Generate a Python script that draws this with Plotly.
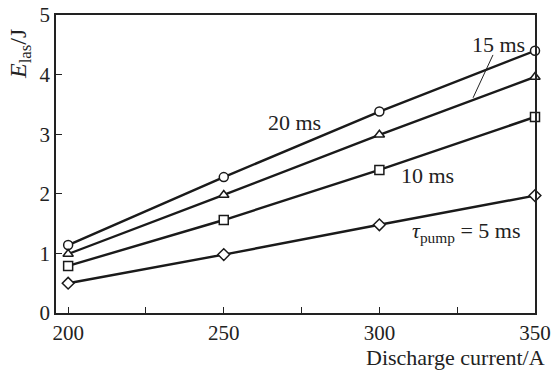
import plotly.graph_objects as go

current = [200, 250, 300, 350]
e_20ms = [1.14, 2.28, 3.38, 4.40]
e_15ms = [0.99, 1.98, 2.99, 3.96]
e_10ms = [0.79, 1.56, 2.40, 3.29]
e_5ms = [0.50, 0.98, 1.48, 1.97]

x_tickvals = [200, 225, 250, 275, 300, 325, 350]
x_ticktext = ["200", "", "250", "", "300", "", "350"]
y_tickvals = [0, 1, 2, 3, 4, 5]
y_ticktext = ["0", "1", "2", "3", "4", "5"]

FONT = "Liberation Serif, Times New Roman, serif"
FS = 22

series = [
    (e_20ms, "circle", "20 ms"),
    (e_15ms, "triangle-up", "15 ms"),
    (e_10ms, "square", "10 ms"),
    (e_5ms, "diamond", "5 ms"),
]

fig = go.Figure()
for vals, sym, name in series:
    fig.add_trace(go.Scatter(
        x=current, y=vals, mode="lines+markers", name=name,
        line=dict(color="#1a1a1a", width=2.4),
        marker=dict(symbol=sym, size=9, color="white",
                    line=dict(color="#1a1a1a", width=1.5)),
        showlegend=False, cliponaxis=False, hoverinfo="skip",
    ))

fig.update_layout(
    template="none",
    width=553, height=374,
    margin=dict(l=56, r=18, t=15, b=61, pad=0),
    paper_bgcolor="white", plot_bgcolor="white",
    font=dict(family=FONT, size=FS, color="#222"),
)
common = dict(
    ticks="inside", ticklen=6, tickwidth=1.3, tickcolor="#222",
    showline=True, linecolor="#222", linewidth=1.5, mirror=True,
    showgrid=False, zeroline=False, tickfont=dict(size=FS - 1),
    automargin=False,
)
fig.update_xaxes(range=[196.1, 350], tickvals=x_tickvals, ticktext=x_ticktext, **common)
fig.update_yaxes(range=[0, 5], tickvals=y_tickvals, ticktext=y_ticktext, **common)

ann = [
    dict(text="<i>E</i><sub>las</sub>/J", x=20, y=54, textangle=-90, size=24),
    dict(text="Discharge current/A", x=547, y=357, xanchor="right"),
    dict(text="15 ms", x=498, y=44),
    dict(text="20 ms", x=294, y=122),
    dict(text="10 ms", x=427, y=175),
    dict(text="<i>τ</i><sub>pump</sub> = 5 ms", x=466, y=232),
]
for a in ann:
    xa = a.pop("xanchor", "center")
    sz = a.pop("size", FS)
    fig.add_annotation(
        xref="paper", yref="paper",
        x=(a.pop("x") - 56) / (553 - 56 - 18),
        y=(374 - 61 - a.pop("y")) / (374 - 15 - 61),
        xanchor=xa, yanchor="middle", showarrow=False,
        font=dict(family=FONT, size=sz, color="#222"), **a,
    )

fig.add_shape(type="line", xref="x", yref="y", x0=336.5, y0=4.33, x1=330.1, y1=3.61,
              line=dict(color="#222", width=1))

fig.write_html("out.html", config={"displayModeBar": False},
               post_script="document.body.style.margin='0';document.body.style.overflow='hidden';")
